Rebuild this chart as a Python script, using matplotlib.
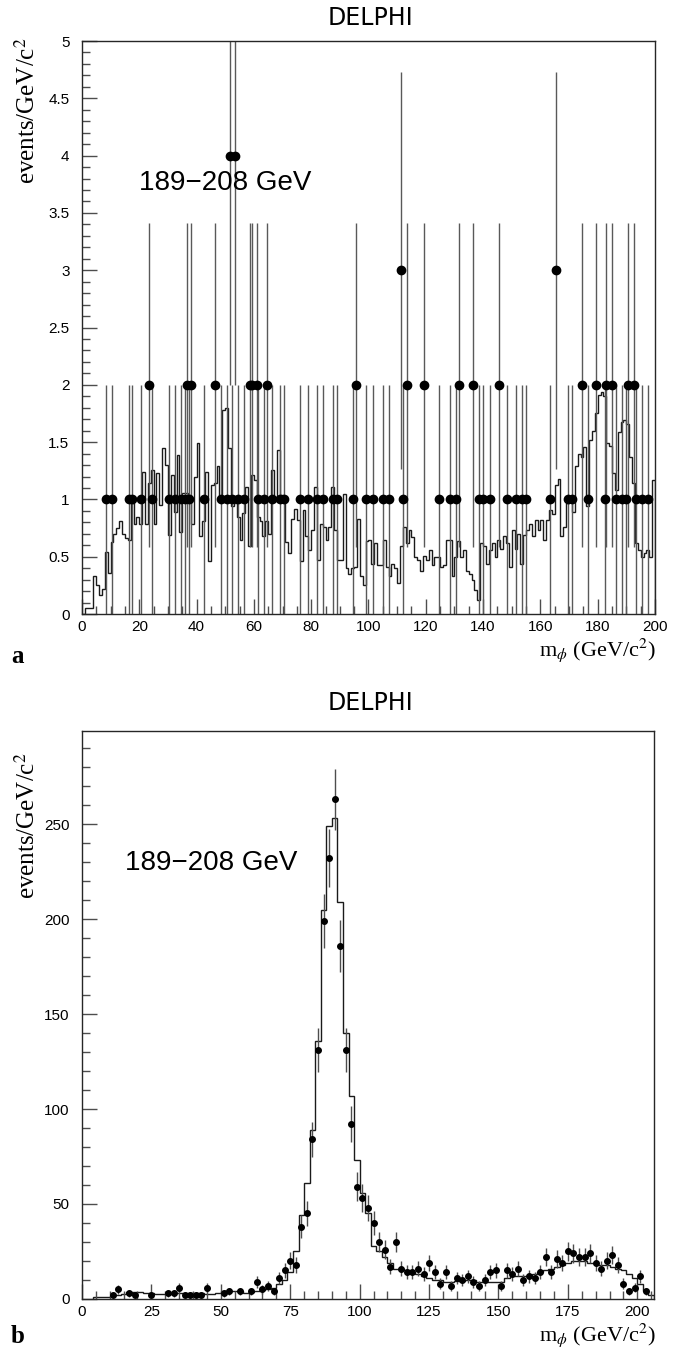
import numpy as np
import matplotlib
matplotlib.use("Agg")
import matplotlib.pyplot as plt
from matplotlib.ticker import MultipleLocator, FuncFormatter

plt.rcParams["mathtext.fontset"] = "stix"

# ---------------- Panel a data ----------------
a_mc = [0.0, 0.05, 0.05, 0.05, 0.33, 0.25, 0.17, 0.22, 0.54, 0.36,
        0.63, 0.70, 0.75, 0.81, 0.70, 0.66, 0.65, 0.97, 0.79, 0.85,
        0.79, 1.24, 0.79, 1.14, 1.26, 0.79, 1.23, 0.95, 1.45, 1.30,
        0.69, 1.21, 0.89, 1.39, 0.72, 1.06, 1.06, 1.04, 0.79, 1.20,
        1.49, 0.68, 0.81, 1.24, 0.46, 1.13, 1.14, 1.29, 1.02, 1.78,
        1.80, 1.45, 0.94, 0.97, 0.85, 0.65, 0.88, 1.11, 0.59, 1.21,
        1.17, 0.85, 0.81, 0.68, 0.81, 0.70, 1.26, 1.02, 1.43, 1.04,
        1.02, 0.63, 0.53, 0.83, 0.92, 0.82, 0.46, 0.91, 0.68, 0.56,
        0.73, 1.11, 0.47, 0.79, 0.76, 0.65, 0.76, 1.11, 0.73, 0.47,
        0.47, 1.05, 0.40, 0.35, 0.40, 0.41, 0.83, 0.33, 0.25, 0.64,
        0.65, 0.44, 0.62, 0.43, 0.43, 0.65, 0.41, 0.33, 0.44, 0.40,
        0.27, 0.59, 0.76, 0.62, 0.73, 0.67, 0.50, 0.47, 0.38, 0.51,
        0.47, 0.56, 0.43, 0.50, 0.50, 0.41, 0.43, 0.65, 0.65, 0.33,
        0.50, 0.64, 0.50, 0.56, 0.38, 0.35, 0.30, 0.21, 0.12, 0.62,
        0.59, 0.44, 0.56, 0.62, 0.50, 0.65, 0.57, 0.68, 0.62, 0.41,
        0.73, 0.57, 0.70, 0.44, 0.69, 0.73, 0.79, 0.68, 0.82, 0.73,
        0.82, 0.65, 0.82, 0.91, 0.87, 1.13, 1.18, 0.68, 0.76, 0.97,
        1.01, 0.89, 1.29, 1.40, 1.37, 1.46, 0.94, 1.52, 1.60, 1.75,
        1.91, 1.94, 1.90, 1.49, 1.47, 1.23, 1.08, 1.59, 1.68, 1.69,
        1.66, 1.37, 1.14, 0.62, 0.56, 0.50, 0.53, 0.56, 0.50, 1.17]
a_bin_lo, a_bin_w = 0.0, 1.0

a_x = [8.5, 10.5, 16.5, 17.5, 20.5, 24.5, 30.5, 32.5, 34.5, 36.0,
       37.5, 42.5, 48.5, 50.5, 52.5, 54.5, 56.5, 61.5, 63.5, 66.5,
       69.0, 70.5, 76.0, 79.0, 82.0, 84.0, 87.5, 89.0, 94.5, 99.0,
       101.5, 105.0, 107.0, 112.0, 124.5, 128.5, 130.5, 138.5, 140.0, 142.5,
       148.5, 151.5, 153.5, 155.0, 163.5, 169.5, 171.0, 176.5, 182.5, 186.5,
       188.5, 190.0, 193.5, 195.5, 197.5,
       23.5, 36.5, 38.0, 46.5, 58.5, 59.5, 61.0, 64.5, 95.5, 113.5,
       119.5, 131.5, 136.5, 145.5, 174.5, 179.5, 183.0, 185.0, 190.5, 192.5,
       111.5, 165.5,
       51.5, 53.5]
a_n = [1] * 55 + [2] * 20 + [3] * 2 + [4] * 2

# ---------------- Panel b data ----------------
b_mc = [1, 1, 1, 1.5, 2, 2.5, 3.5, 3.5, 3.5, 3,
        3, 2.5, 2.5, 2.5, 3, 3, 3, 3, 3, 3,
        2.5, 2.5, 3, 4, 4, 4, 4, 3, 3.5, 4,
        4.5, 5, 6, 8, 10, 14, 25, 44, 61, 89,
        136, 205, 249, 253, 209, 140, 107, 73, 56, 45,
        28, 25, 22, 19, 16, 16, 15, 14, 13, 12,
        11, 10, 10, 9, 9, 9.5, 9.5, 10, 10, 9,
        9, 9, 9, 9, 11, 12, 12, 12, 12, 13,
        14, 15, 16, 17, 18, 19, 20, 20, 20, 19,
        19, 18, 18, 17, 16, 15, 13, 11, 8, 4,
        2]
b_bin_lo, b_bin_w = 4.0, 2.0

b_x = [11, 13, 17, 19, 25, 31, 33, 35, 37, 39,
       41, 43, 45, 51, 53, 57, 61, 63, 65, 67,
       69, 71, 73, 75, 77, 79, 81, 83, 85, 87,
       89, 91, 93, 95, 97, 99, 101, 103, 105, 107,
       109, 111, 113, 115, 117, 119, 121, 123, 125, 127,
       129, 131, 133, 135, 137, 139, 141, 143, 145, 147,
       149, 151, 153, 155, 157, 159, 161, 163, 165, 167,
       169, 171, 173, 175, 177, 179, 181, 183, 185, 187,
       189, 191, 193, 195, 197, 199, 201, 203]
b_n = [2, 5, 3, 2, 2, 3, 3, 6, 2, 2,
       2, 2, 6, 3, 4, 4, 4, 9, 5, 7,
       4, 11, 15, 20, 18, 38, 45, 84, 131, 199,
       232, 263, 186, 131, 92, 59, 53, 48, 40, 30,
       26, 17, 30, 16, 14, 14, 16, 13, 19, 14,
       8, 14, 7, 11, 10, 12, 9, 7, 10, 14,
       15, 7, 15, 13, 16, 10, 12, 11, 14, 22,
       14, 21, 19, 25, 24, 22, 22, 24, 19, 16,
       20, 23, 18, 8, 4, 6, 12, 4]

label_text = "189\u2212208 GeV"

# ---------------- Figure ----------------
fig = plt.figure(figsize=(6.83, 13.49), dpi=100)
axA = fig.add_axes([0.120, 0.5448, 0.839, 0.4248])
axB = fig.add_axes([0.120, 0.0371, 0.8375, 0.4210])

tickfont = "Liberation Sans"
serif = "Liberation Serif"


def style_axes(ax):
    ax.tick_params(which="both", direction="in", top=False, right=False,
                   labelsize=11, width=1.0, color="0.3")
    ax.tick_params(which="major", length=11)
    ax.tick_params(which="minor", length=6)
    ax.tick_params(axis="y", pad=9)
    ax.tick_params(axis="x", pad=4)
    for lab in ax.get_xticklabels() + ax.get_yticklabels():
        lab.set_family(tickfont)
    for s in ax.spines.values():
        s.set_linewidth(1.0)
        s.set_color("0.15")


# Panel a
a_edges = a_bin_lo + a_bin_w * np.arange(len(a_mc) + 1)
axA.stairs(a_mc, a_edges, color="0.1", lw=1.0)
a_err = np.sqrt(np.array(a_n, dtype=float))
axA.errorbar(a_x, a_n, yerr=a_err, fmt="o", color="black", ms=6.0,
             ecolor="0.35", elinewidth=1.0, capsize=0)
axA.set_xlim(0, 200)
axA.set_ylim(0, 5)
axA.xaxis.set_major_locator(MultipleLocator(20))
axA.xaxis.set_minor_locator(MultipleLocator(5))
axA.yaxis.set_major_locator(MultipleLocator(0.5))
axA.yaxis.set_minor_locator(MultipleLocator(0.1))
axA.yaxis.set_major_formatter(FuncFormatter(lambda v, p: "%g" % v))
style_axes(axA)
axA.text(20.0, 3.76, label_text, fontsize=20, family="Liberation Sans",
         ha="left", va="center")

# Panel b
b_edges = b_bin_lo + b_bin_w * np.arange(len(b_mc) + 1)
axB.stairs(b_mc, b_edges, color="0.1", lw=1.0)
b_err = np.sqrt(np.array(b_n, dtype=float))
axB.errorbar(b_x, b_n, yerr=b_err, fmt="o", color="black", ms=4.0,
             ecolor="0.3", elinewidth=1.0, capsize=0)
axB.set_xlim(0, 206)
axB.set_ylim(0, 299)
axB.xaxis.set_major_locator(MultipleLocator(25))
axB.xaxis.set_minor_locator(MultipleLocator(5))
axB.yaxis.set_major_locator(MultipleLocator(50))
axB.yaxis.set_minor_locator(MultipleLocator(10))
style_axes(axB)
axB.text(15.5, 229.5, label_text, fontsize=20, family="Liberation Sans",
         ha="left", va="center")

# Titles and labels
for ytitle in [18, 703]:
    fig.text(370 / 683, 1 - ytitle / 1349, "DELPHI", fontsize=17,
             family="DejaVu Sans", ha="center", va="center")

ylab = r"events/GeV/c$^2$"
xlab = r"m$_\phi$ (GeV/c$^2$)"
fig.text(27 / 683, 1 - 37 / 1349, ylab, rotation=90, ha="center", va="top",
         fontsize=18, family=serif)
fig.text(27 / 683, 1 - 752 / 1349, ylab, rotation=90, ha="center", va="top",
         fontsize=18, family=serif)
fig.text(656 / 683, 1 - 656 / 1349, xlab, ha="right", va="baseline",
         fontsize=16, family=serif)
fig.text(656 / 683, 1 - 1341 / 1349, xlab, ha="right", va="baseline",
         fontsize=16, family=serif)
fig.text(18 / 683, 1 - 657 / 1349, "a", ha="center", va="center",
         fontsize=18, family=serif, weight="bold")
fig.text(18 / 683, 1 - 1348 / 1349, "b", ha="center", va="bottom",
         fontsize=18, family=serif, weight="bold")

fig.savefig("out.png", dpi=100)
